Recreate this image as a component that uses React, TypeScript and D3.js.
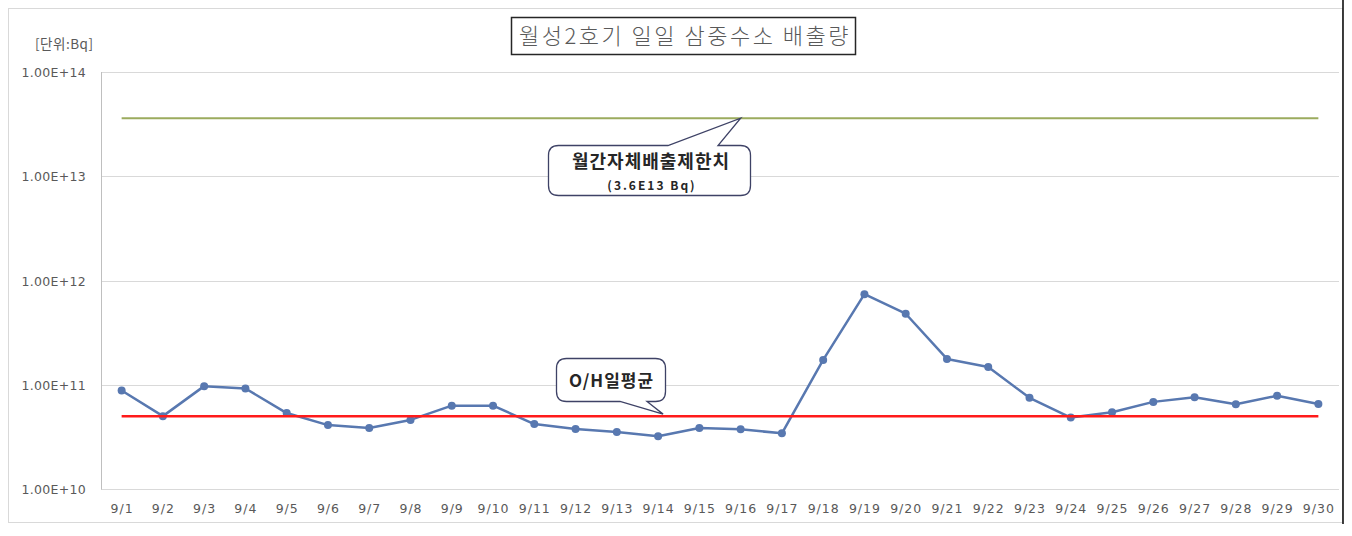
import { useEffect, useRef } from 'react';
import * as d3 from 'd3';

const days = [
  '9/1', '9/2', '9/3', '9/4', '9/5', '9/6', '9/7', '9/8', '9/9', '9/10',
  '9/11', '9/12', '9/13', '9/14', '9/15', '9/16', '9/17', '9/18', '9/19', '9/20',
  '9/21', '9/22', '9/23', '9/24', '9/25', '9/26', '9/27', '9/28', '9/29', '9/30',
];

const dailyRelease = [
  8.8e10, 5.0e10, 9.7e10, 9.2e10, 5.35e10, 4.1e10, 3.85e10, 4.6e10, 6.3e10, 6.3e10,
  4.2e10, 3.76e10, 3.52e10, 3.2e10, 3.85e10, 3.74e10, 3.42e10, 1.73e11, 7.4e11, 4.8e11,
  1.77e11, 1.48e11, 7.5e10, 4.85e10, 5.45e10, 6.85e10, 7.6e10, 6.5e10, 7.85e10, 6.55e10,
];

const monthlyLimit = 3.6e13;
const ohDailyAverage = 5.0e10;

const yTicks = [1e10, 1e11, 1e12, 1e13, 1e14];
const yTickLabels = ['1.00E+10', '1.00E+11', '1.00E+12', '1.00E+13', '1.00E+14'];

const title = '월성2호기 일일 삼중수소 배출량';
const unitLabel = '[단위:Bq]';
const limitLabel = '월간자체배출제한치';
const limitSubLabel = '(3.6E13 Bq)';
const avgLabel = 'O/H일평균';

const W = 1352;
const H = 536;
const KR = '"Noto Sans CJK KR", "Noto Sans", sans-serif';
const TICK_FONT = '"DejaVu Sans", Verdana, sans-serif';

// rounded box with a speech pointer on the top or bottom edge
const calloutPath = (
  x0: number, y0: number, x1: number, y1: number, r: number,
  side: 'top' | 'bottom', p1: number, p2: number, tx: number, ty: number,
) => {
  const p = d3.path();
  p.moveTo(x0 + r, y0);
  if (side === 'top') {
    p.lineTo(p1, y0);
    p.lineTo(tx, ty);
    p.lineTo(p2, y0);
  }
  p.lineTo(x1 - r, y0);
  p.quadraticCurveTo(x1, y0, x1, y0 + r);
  p.lineTo(x1, y1 - r);
  p.quadraticCurveTo(x1, y1, x1 - r, y1);
  if (side === 'bottom') {
    p.lineTo(p2, y1);
    p.lineTo(tx, ty);
    p.lineTo(p1, y1);
  }
  p.lineTo(x0 + r, y1);
  p.quadraticCurveTo(x0, y1, x0, y1 - r);
  p.lineTo(x0, y0 + r);
  p.quadraticCurveTo(x0, y0, x0 + r, y0);
  p.closePath();
  return p.toString();
};

export default function App() {
  const svgRef = useRef<SVGSVGElement>(null);

  useEffect(() => {
    if (!svgRef.current) return;
    const svg = d3.select(svgRef.current);
    svg.selectAll('*').remove();

    const plot = { left: 101, right: 1339, top: 72, bottom: 489 };

    const x = d3.scalePoint<string>()
      .domain(days)
      .range([plot.left, plot.right])
      .padding(0.5);

    const y = d3.scaleLog()
      .domain([1e10, 1e14])
      .range([plot.bottom, plot.top]);

    // chart frame
    svg.append('rect')
      .attr('x', 8.5).attr('y', 8.5)
      .attr('width', 1334).attr('height', 514)
      .attr('fill', '#ffffff')
      .attr('stroke', '#d9d9d9')
      .attr('stroke-width', 1);

    svg.append('line')
      .attr('x1', 1343).attr('x2', 1343)
      .attr('y1', 0).attr('y2', 524)
      .attr('stroke', '#000000')
      .attr('stroke-width', 1.5);

    // grid lines
    svg.append('g')
      .selectAll('line')
      .data(yTicks)
      .join('line')
      .attr('x1', plot.left)
      .attr('x2', plot.right)
      .attr('y1', d => Math.round(y(d)) + 0.5)
      .attr('y2', d => Math.round(y(d)) + 0.5)
      .attr('stroke', '#d9d9d9')
      .attr('stroke-width', 1);

    // left axis line
    svg.append('line')
      .attr('x1', plot.left + 0.5).attr('x2', plot.left + 0.5)
      .attr('y1', plot.top).attr('y2', plot.bottom + 0.5)
      .attr('stroke', '#bfbfbf');

    // y tick labels
    svg.append('g')
      .selectAll('text')
      .data(yTicks)
      .join('text')
      .attr('x', 86)
      .attr('y', d => y(d) + 5)
      .attr('text-anchor', 'end')
      .style('font-family', TICK_FONT)
      .style('font-size', '12.5px')
      .style('letter-spacing', '0.3px')
      .style('fill', '#595959')
      .text((d, i) => yTickLabels[i]);

    // x tick labels
    svg.append('g')
      .selectAll('text')
      .data(days)
      .join('text')
      .attr('x', d => (x(d) || 0) + 0.5)
      .attr('y', 513)
      .attr('text-anchor', 'middle')
      .style('font-family', TICK_FONT)
      .style('font-size', '12.5px')
      .style('letter-spacing', '1px')
      .style('fill', '#595959')
      .text(d => d);

    // unit label
    svg.append('text')
      .attr('x', 35)
      .attr('y', 49)
      .style('font-family', KR)
      .style('font-size', '13.5px')
      .style('letter-spacing', '0.5px')
      .style('fill', '#595959')
      .text(unitLabel);

    const xFirst = x(days[0]) || 0;
    const xLast = x(days[days.length - 1]) || 0;

    // monthly limit line
    svg.append('line')
      .attr('x1', xFirst).attr('x2', xLast)
      .attr('y1', y(monthlyLimit)).attr('y2', y(monthlyLimit))
      .attr('stroke', '#9bab5e')
      .attr('stroke-width', 2);

    // daily release series
    const line = d3.line<number>()
      .x((d, i) => x(days[i]) || 0)
      .y(d => y(d));

    svg.append('path')
      .datum(dailyRelease)
      .attr('fill', 'none')
      .attr('stroke', '#5878b0')
      .attr('stroke-width', 2.5)
      .attr('stroke-linejoin', 'round')
      .attr('d', line);

    svg.append('g')
      .selectAll('circle')
      .data(dailyRelease)
      .join('circle')
      .attr('cx', (d, i) => x(days[i]) || 0)
      .attr('cy', d => y(d))
      .attr('r', 4)
      .attr('fill', '#5878b0');

    // O/H daily average line
    svg.append('line')
      .attr('x1', xFirst).attr('x2', xLast)
      .attr('y1', y(ohDailyAverage)).attr('y2', y(ohDailyAverage))
      .attr('stroke', '#ff1a1a')
      .attr('stroke-width', 2.5);

    // limit callout
    const limitTipX = x('9/16') || 0;
    svg.append('path')
      .attr('d', calloutPath(548.5, 145.5, 750.5, 195.5, 10, 'top', 668, 718, limitTipX, y(monthlyLimit)))
      .attr('fill', '#ffffff')
      .attr('stroke', '#3e4266')
      .attr('stroke-width', 1.3);

    svg.append('text')
      .attr('x', 651)
      .attr('y', 168)
      .attr('text-anchor', 'middle')
      .style('font-family', KR)
      .style('font-size', '18px')
      .style('font-weight', 'bold')
      .style('letter-spacing', '1px')
      .style('fill', '#262626')
      .text(limitLabel);

    svg.append('text')
      .attr('x', 652)
      .attr('y', 190)
      .attr('text-anchor', 'middle')
      .style('font-family', KR)
      .style('font-size', '12px')
      .style('font-weight', 'bold')
      .style('letter-spacing', '2px')
      .style('fill', '#262626')
      .text(limitSubLabel);

    // average callout
    const avgTipX = (x('9/14') || 0) + 5;
    svg.append('path')
      .attr('d', calloutPath(556.5, 358.5, 665.5, 401.5, 10, 'bottom', 620, 647, avgTipX, y(ohDailyAverage) - 2))
      .attr('fill', '#ffffff')
      .attr('stroke', '#3e4266')
      .attr('stroke-width', 1.3);

    svg.append('text')
      .attr('x', 611.5)
      .attr('y', 387)
      .attr('text-anchor', 'middle')
      .style('font-family', KR)
      .style('font-size', '17px')
      .style('font-weight', 'bold')
      .style('letter-spacing', '1px')
      .style('fill', '#262626')
      .text(avgLabel);

    // title box
    svg.append('rect')
      .attr('x', 511.5).attr('y', 17.5)
      .attr('width', 344).attr('height', 37)
      .attr('fill', '#ffffff')
      .attr('stroke', '#262626')
      .attr('stroke-width', 1.5);

    svg.append('text')
      .attr('x', 685)
      .attr('y', 44)
      .attr('text-anchor', 'middle')
      .style('font-family', KR)
      .style('font-size', '22px')
      .style('font-weight', '300')
      .style('letter-spacing', '2.5px')
      .style('fill', '#595959')
      .text(title);
  }, []);

  return (
    <svg
      ref={svgRef}
      width={W}
      height={H}
      style={{ position: 'absolute', left: 0, top: 0, background: '#ffffff' }}
    />
  );
}
